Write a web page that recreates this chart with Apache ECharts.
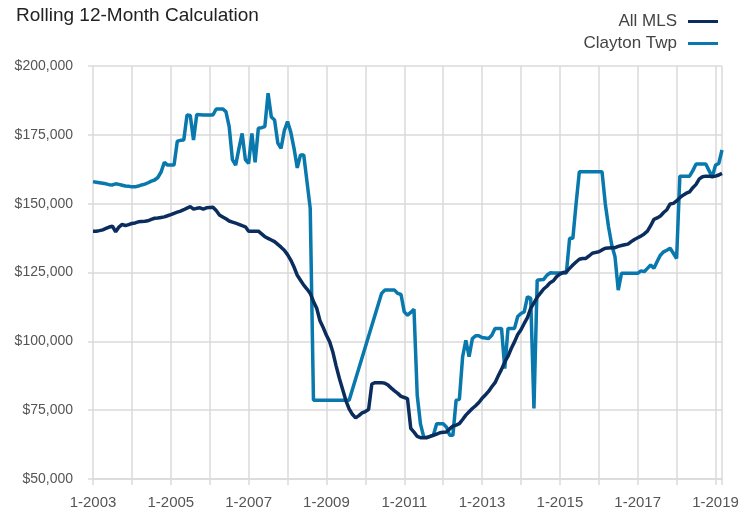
<!DOCTYPE html>
<html>
<head>
<meta charset="utf-8">
<script src="https://cdn.jsdelivr.net/npm/echarts@6/dist/echarts.min.js"></script>
<style>
  html, body { margin: 0; padding: 0; background: #fff; }
  #chart { width: 755px; height: 515px; }
</style>
</head>
<body>
<div id="chart"></div>
<script>
// monthly values, Jan 2003 .. Mar 2019
var startYear = 2003;
var seriesNames = ['All MLS', 'Clayton Twp'];

var allMls = [
  140000,140000,140200,140500,141000,141500,141800,139800,141500,142500,142000,142400,
  142800,143000,143400,143500,143600,143800,144300,144700,144800,145000,145200,145600,
  146000,146500,146900,147300,147800,148400,148900,148000,148300,148500,148000,148500,
  148600,148700,147500,145900,145200,144500,143700,143300,142900,142500,142000,141600,
  140000,140000,140000,140000,139000,138000,137400,136800,136200,135200,134200,133100,
  131500,129500,127000,124000,122200,120400,119000,117400,114500,112000,107500,105000,
  102200,99800,96000,91000,86500,82500,78500,75500,73500,72200,73000,74000,
  74500,75200,84500,85000,85000,85000,84800,84100,83000,82000,81100,80000,
  79600,79200,68400,67000,65500,65000,65000,65000,65500,65900,66300,66800,
  67000,67100,68200,69200,69600,70100,71600,73200,74400,75600,76600,77800,
  79300,80500,81800,83500,85000,87500,89800,92500,94600,97400,99800,102500,
  104200,106500,108600,112000,114000,116000,117500,119000,120000,121300,122000,123500,
  124400,125000,125200,126500,127700,128800,129800,130100,130100,131000,132000,132300,
  132500,133200,133800,133900,134000,134000,134500,134800,135100,135300,136200,137000,
  137600,138200,139000,140000,142000,144300,144800,145500,146800,147800,149900,150100,
  151000,152200,153100,153800,154300,155800,157000,159000,159800,160000,160000,159800,
  160000,160400,161000
];

var clayton = [
  158000,157800,157600,157400,157200,156900,156800,157200,157000,156700,156400,156300,
  156100,156100,156400,156800,157100,157600,158200,158600,159500,161500,165000,164000,
  164000,164000,172700,173000,173100,182200,182000,173100,182400,182300,182200,182200,
  182200,182200,184400,184400,184400,183400,178000,166000,164000,170000,175500,166000,
  164600,175500,165000,177400,177600,178000,190100,181500,180400,172000,170100,176500,
  179800,176000,170100,163000,167700,167700,158000,148300,78600,null,null,null,
  null,null,null,null,null,null,null,78600,null,null,null,null,
  null,null,null,null,null,117400,118600,118600,118600,118600,117400,117000,
  110700,109500,110500,111600,80400,70000,65300,65100,65500,66000,70100,70100,
  70100,68900,65900,65900,78600,78900,94400,100400,94400,101000,102000,102000,
  101400,101200,101000,102200,104700,104700,104700,90100,104700,104700,104700,109000,
  110100,110700,116200,115600,75600,122200,122400,122500,124000,124900,124800,124800,
  124800,124800,124800,137400,137400,150000,161600,161600,161600,161600,161600,161600,
  161600,161600,150000,141600,135000,130700,118600,124700,124700,124700,124700,124700,
  124700,125600,125300,126500,127700,126500,129000,131300,132500,133100,133800,132000,
  130100,160000,160000,160000,160000,162000,164400,164400,164400,164400,162000,159800,
  164000,164600,169500
];

var gridColor = '#dadada';
var font = 'Liberation Sans, Arial, sans-serif';

var myChart = echarts.init(document.getElementById('chart'));

function pairs(arr) {
  return arr.map(function (v, i) { return [i, v]; });
}

var option = {
  animation: false,
  title: {
    text: 'Rolling 12-Month Calculation',
    left: 11,
    top: 1,
    textStyle: { fontFamily: font, fontSize: 19, fontWeight: 'normal', color: '#222' }
  },
  legend: {
    orient: 'vertical',
    right: 32,
    top: 8,
    align: 'right',
    itemGap: 5,
    itemWidth: 30,
    itemHeight: 3,
    icon: 'rect',
    textStyle: { fontFamily: font, fontSize: 17, color: '#444', padding: [0, 6, 0, 0] },
    data: seriesNames
  },
  grid: { left: 93, right: 33, top: 66, bottom: 36 },
  xAxis: {
    type: 'value',
    min: 0,
    max: allMls.length - 1,
    interval: 12,
    axisLine: { show: true, lineStyle: { color: gridColor, width: 1.5 } },
    axisTick: { show: true, length: 6, lineStyle: { color: gridColor, width: 1.5 } },
    axisLabel: {
      margin: 16,
      fontFamily: font,
      fontSize: 15,
      color: '#555',
      formatter: function (v) {
        return v % 24 === 0 ? '1-' + (startYear + v / 12) : '';
      }
    },
    splitLine: { show: true, lineStyle: { color: gridColor, width: 1.5 } }
  },
  yAxis: {
    type: 'value',
    min: 50000,
    max: 200000,
    interval: 25000,
    axisLine: { show: false },
    axisTick: { show: true, length: 5, lineStyle: { color: gridColor, width: 1.5 } },
    axisLabel: {
      margin: 20,
      fontFamily: font,
      fontSize: 14,
      color: '#555',
      formatter: function (v) {
        return '$' + v.toLocaleString('en-US');
      }
    },
    splitLine: { show: true, lineStyle: { color: gridColor, width: 1.5 } }
  },
  series: [
    {
      name: seriesNames[0],
      type: 'line',
      data: pairs(allMls),
      showSymbol: false,
      symbol: 'none',
      color: '#0b2d5e',
      lineStyle: { width: 3.5, color: '#0b2d5e' },
      z: 3
    },
    {
      name: seriesNames[1],
      type: 'line',
      data: pairs(clayton),
      showSymbol: false,
      symbol: 'none',
      connectNulls: true,
      color: '#0878ad',
      lineStyle: { width: 3.5, color: '#0878ad' },
      z: 2
    }
  ]
};

myChart.setOption(option);
</script>
</body>
</html>
